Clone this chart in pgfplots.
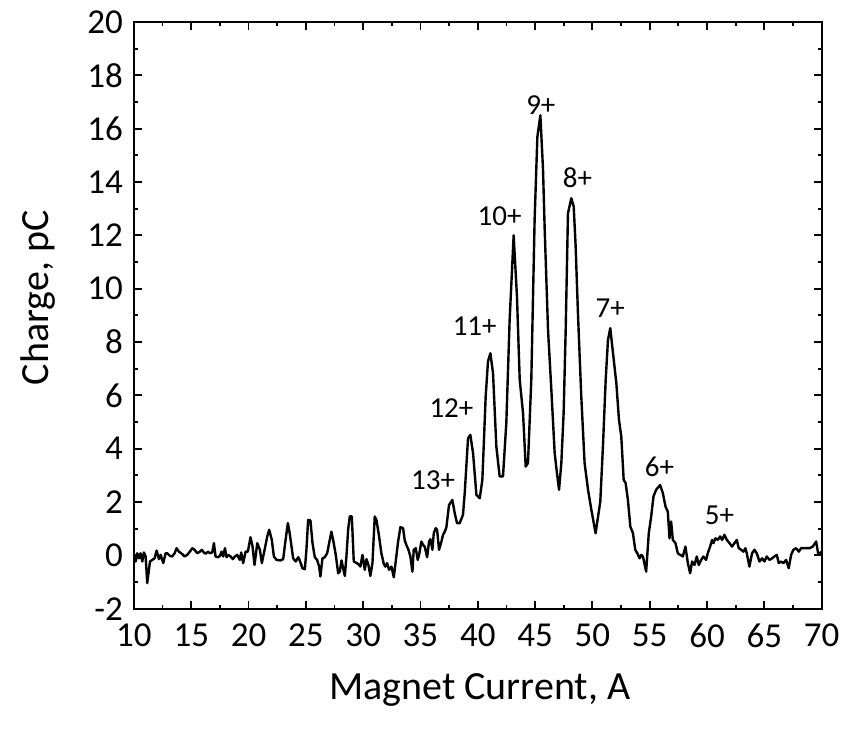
\documentclass[border=0pt]{standalone}
\usepackage{fontspec}
\setmainfont{Carlito}
\usepackage{pgfplots}
\pgfplotsset{compat=1.18}

\pgfplotstableset{col sep=space}

\begin{document}
\begin{tikzpicture}
\begin{axis}[
    name=ax,
    scale only axis,
    width=344pt, height=293.5pt,
    xmin=10, xmax=70, ymin=-2, ymax=20,
    xtick={10,15,...,70},
    xticklabels={10,15,20,25,30,35,40,45,50,55,60,65,70},
    ytick={-2,0,...,20},
    yticklabels={-2,0,2,4,6,8,10,12,14,16,18,20},
    minor x tick num=1,
    minor y tick num=1,
    tick pos=both,
    tick align=inside,
    major tick length=4pt,
    minor tick length=2pt,
    every tick/.style={black, line width=0.9pt},
    axis line style={line width=1.1pt},
    tick label style={font=\fontsize{17.5}{20}\selectfont},
    xticklabel style={yshift=-4pt},
    yticklabel style={xshift=-2pt},
    label style={font=\fontsize{20}{24}\selectfont},
    xlabel={Magnet Current, A},
    ylabel={Charge, pC},
    xlabel style={at={(axis description cs:0.503,-0.138)}, anchor=center},
    ylabel style={at={(axis description cs:-0.14,0.53)}, anchor=center},
    clip=true,
]
\addplot[black, line width=1.2pt, line join=round] table {
x y
10.00 -0.04
10.15 -0.23
10.29 0.08
10.44 -0.11
10.58 0.08
10.73 -0.23
10.87 0.11
11.02 -0.04
11.16 -1.04
11.40 -0.23
11.60 -0.17
11.80 -0.11
11.98 0.18
12.18 -0.14
12.33 0.02
12.56 -0.29
12.76 0.08
12.91 0.08
13.14 -0.02
13.34 -0.04
13.55 0.08
13.72 0.27
13.92 0.14
14.13 0.08
14.42 -0.04
14.65 0.02
14.88 0.14
15.09 0.27
15.29 0.21
15.52 0.08
15.76 0.14
15.93 0.21
16.10 0.11
16.25 0.06
16.45 0.14
16.63 0.08
16.83 0.11
16.98 0.46
17.12 -0.04
17.33 -0.07
17.50 -0.02
17.65 0.14
17.79 -0.04
17.94 0.27
18.08 -0.07
18.23 0.02
18.43 -0.04
18.63 -0.14
18.81 -0.04
19.01 0.02
19.24 -0.17
19.36 0.11
19.53 -0.29
19.74 0.14
19.94 0.14
20.17 0.68
20.35 0.33
20.52 -0.36
20.76 0.46
20.99 0.21
21.16 -0.29
21.40 0.21
21.63 0.71
21.80 0.96
22.03 0.58
22.21 -0.04
22.44 -0.17
22.79 -0.19
23.02 -0.14
23.23 0.58
23.43 1.21
23.60 0.80
23.75 0.33
23.89 -0.11
24.12 -0.23
24.33 -0.07
24.47 -0.19
24.70 -0.48
24.91 -0.52
25.05 0.21
25.20 1.33
25.40 1.31
25.58 0.46
25.78 -0.07
25.98 -0.17
26.16 -0.42
26.27 -0.79
26.45 -0.11
26.65 -0.07
26.86 0.08
27.03 0.46
27.23 0.89
27.38 0.58
27.61 0.02
27.82 -0.67
27.96 -0.61
28.11 -0.19
28.25 -0.48
28.40 -0.77
28.54 -0.04
28.69 0.96
28.83 1.46
29.01 1.46
29.18 -0.23
29.36 -0.27
29.56 -0.32
29.76 -0.42
29.94 0.02
30.14 -0.54
30.29 -0.14
30.46 -0.36
30.63 -0.77
30.81 -0.29
31.01 1.46
31.16 1.33
31.39 0.71
31.59 0.08
31.80 -0.32
31.94 -0.42
32.09 -0.29
32.26 -0.54
32.47 -0.42
32.67 -0.82
32.84 -0.23
33.05 0.52
33.25 1.06
33.48 1.02
33.63 0.56
33.77 0.39
33.95 0.21
34.12 -0.04
34.30 -0.61
34.41 0.21
34.59 0.27
34.76 -0.17
34.88 0.02
35.08 0.52
35.23 0.39
35.37 0.33
35.58 -0.07
35.75 0.52
35.87 0.61
36.04 0.21
36.16 0.83
36.33 1.02
36.45 0.96
36.62 0.21
36.83 0.52
36.97 0.77
37.12 0.89
37.26 1.05
37.49 1.89
37.78 2.08
37.99 1.58
38.19 1.21
38.42 1.21
38.71 1.52
38.86 2.33
39.15 4.39
39.35 4.52
39.59 3.83
39.88 2.27
40.17 2.14
40.40 2.83
40.69 5.96
40.89 7.27
41.10 7.58
41.33 6.83
41.62 4.08
41.91 2.96
42.20 2.96
42.49 4.96
42.78 8.83
43.13 12.00
43.42 9.70
43.66 6.58
43.95 5.33
44.18 3.33
44.38 3.46
44.67 6.58
44.96 12.60
45.20 15.70
45.46 16.50
45.69 14.50
45.84 12.20
46.13 8.45
46.42 6.20
46.71 3.83
46.91 3.08
47.09 2.46
47.29 3.46
47.49 5.33
47.67 8.45
47.87 12.83
48.16 13.39
48.37 13.08
48.54 11.58
48.74 9.08
49.03 5.96
49.32 3.46
49.62 2.46
49.91 1.71
50.28 0.83
50.69 2.02
50.92 4.08
51.16 6.58
51.36 8.08
51.56 8.52
51.80 7.58
52.09 6.46
52.32 5.08
52.52 4.46
52.73 2.83
52.90 2.71
53.10 2.08
53.31 1.08
53.54 0.83
53.74 0.21
53.92 0.08
54.12 -0.11
54.27 0.02
54.41 -0.04
54.69 -0.61
54.92 0.83
55.13 1.46
55.33 2.21
55.56 2.46
55.91 2.64
56.15 2.33
56.38 1.83
56.58 1.64
56.73 0.64
56.87 1.27
57.02 0.58
57.25 0.46
57.45 0.08
57.66 0.02
57.89 -0.04
58.12 0.33
58.33 -0.29
58.53 -0.67
58.70 -0.23
58.91 -0.36
59.11 -0.04
59.28 -0.36
59.49 -0.17
59.69 -0.04
59.92 -0.17
60.07 0.08
60.27 0.33
60.45 0.58
60.56 0.46
60.74 0.64
60.94 0.58
61.15 0.71
61.32 0.58
61.52 0.77
61.73 0.58
61.96 0.46
62.19 0.33
62.40 0.46
62.60 0.58
62.77 0.27
62.98 0.21
63.18 0.14
63.35 0.27
63.47 0.08
63.70 -0.42
63.93 0.08
64.14 0.21
64.34 0.08
64.58 -0.23
64.81 -0.11
65.01 -0.23
65.21 -0.04
65.45 -0.17
65.68 -0.11
65.88 -0.04
66.09 0.02
66.26 -0.29
66.46 -0.23
66.67 -0.29
66.90 -0.17
67.13 -0.48
67.34 0.02
67.54 0.21
67.77 0.27
68.01 0.14
68.21 0.27
68.41 0.27
68.65 0.27
68.94 0.27
69.23 0.33
69.52 0.52
69.72 0.02
69.87 0.08
70.00 0.14
};
\begin{scope}[every node/.style={font=\fontsize{14.5}{17}\selectfont}]
\node at (axis cs:45.5,16.9) {9+};
\node at (axis cs:48.7,14.15) {8+};
\node at (axis cs:41.9,12.7) {10+};
\node at (axis cs:39.73,8.58) {11+};
\node at (axis cs:51.56,9.27) {7+};
\node at (axis cs:37.7,5.52) {12+};
\node at (axis cs:36.1,2.83) {13+};
\node at (axis cs:55.86,3.33) {6+};
\node at (axis cs:61.09,1.52) {5+};
\end{scope}
\end{axis}
\path (ax.south west) ++(-67pt,-62pt) rectangle ++(423pt,366.5pt);
\end{tikzpicture}
\end{document}
